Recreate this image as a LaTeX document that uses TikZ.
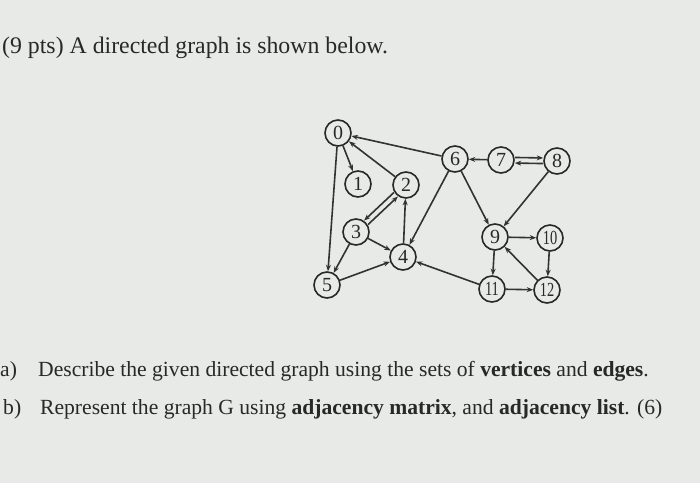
\documentclass[tikz,border=0pt]{standalone}
\usepackage{fontspec}
\setmainfont{Liberation Serif}
\usetikzlibrary{arrows.meta}
\definecolor{bg}{RGB}{232,234,231}
\definecolor{ink}{RGB}{40,40,40}
\definecolor{edge}{RGB}{50,50,50}
\tikzset{
  vtx/.style={circle,draw=ink,line width=1.6pt,fill=bg,minimum size=26pt,inner sep=0pt,font=\fontsize{20}{20}\selectfont,text=ink},
  arc/.style={draw=edge,line width=1.6pt,-{Stealth[length=6.5pt,width=5pt]}},
  txt/.style={anchor=base west,inner sep=0pt,text=ink,font=\fontsize{23.8}{26}\selectfont},
  txtb/.style={anchor=base west,inner sep=0pt,text=ink,font=\fontsize{21.6}{24}\selectfont},
}
\newcommand{\tw}[1]{\scalebox{0.72}[1]{#1}}
\begin{document}
\begin{tikzpicture}[x=1pt,y=-1pt]
\fill[bg] (0,0) rectangle (700,483);
\useasboundingbox (0,0) rectangle (700,483);
\node[txt] (title) at (2,53) {(9 pts) A directed graph is shown below.};
\node[txtb] (la) at (0,376) {a)};
\node[txtb] (ta) at (38,376) {Describe the given directed graph using the sets of \textbf{vertices} and \textbf{edges}.};
\node[txtb] (lb) at (3,414) {b)};
\node[txtb] (tb) at (40,414) {Represent the graph G using \textbf{adjacency matrix}, and \textbf{adjacency list}. (6)};

\node[vtx] (n0) at (338,133) {0};
\node[vtx] (n1) at (358,184) {1};
\node[vtx] (n2) at (406,185) {2};
\node[vtx] (n3) at (356,232) {3};
\node[vtx] (n4) at (403,257) {4};
\node[vtx] (n5) at (327,285) {5};
\node[vtx] (n6) at (455,159) {6};
\node[vtx] (n7) at (501,160) {7};
\node[vtx] (n8) at (557,161) {8};
\node[vtx] (n9) at (495,237) {9};
\node[vtx] (n10) at (550,238) {\tw{10}};
\node[vtx] (n11) at (492,289) {\tw{11}};
\node[vtx] (n12) at (547,290) {\tw{12}};

\draw[arc] (n6) -- (n0);
\draw[arc] (n2) -- (n0);
\draw[arc] (n0) -- (n1);
\draw[arc] (n0) -- (n5);
\draw[arc,transform canvas={shift={(-2pt,2pt)}}] (n2) -- (n3);
\draw[arc,transform canvas={shift={(2pt,-2pt)}}] (n3) -- (n2);
\draw[arc] (n4) -- (n2);
\draw[arc] (n6) -- (n4);
\draw[arc] (n3) -- (n5);
\draw[arc] (n3) -- (n4);
\draw[arc] (n5) -- (n4);
\draw[arc] (n11) -- (n4);
\draw[arc] (n7) -- (n6);
\draw[arc,transform canvas={shift={(0pt,2.8pt)}}] (n7) -- (n8);
\draw[arc,transform canvas={shift={(0pt,-2.8pt)}}] (n8) -- (n7);
\draw[arc] (n6) -- (n9);
\draw[arc] (n8) -- (n9);
\draw[arc] (n9) -- (n10);
\draw[arc] (n9) -- (n11);
\draw[arc] (n12) -- (n9);
\draw[arc] (n10) -- (n12);
\draw[arc] (n11) -- (n12);
\end{tikzpicture}
\end{document}
